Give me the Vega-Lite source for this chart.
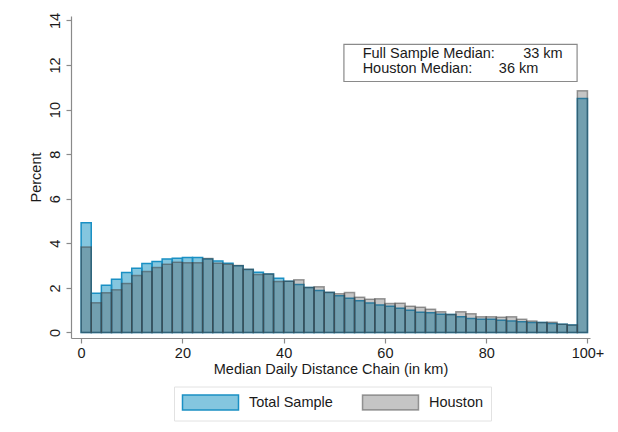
{
  "$schema": "https://vega.github.io/schema/vega-lite/v6.json",
  "width": 519,
  "height": 322,
  "autosize": {"type": "none"},
  "padding": {"left": 71, "top": 16, "right": 28, "bottom": 94},
  "background": "white",
  "config": {
    "view": {"stroke": null},
    "font": "Liberation Sans",
    "axis": {
      "domainColor": "#8a8a8a",
      "tickColor": "#8a8a8a",
      "labelColor": "#1a1a1a",
      "titleColor": "#1a1a1a",
      "labelFontSize": 14.5,
      "titleFontSize": 14.5,
      "titleFontWeight": "normal",
      "grid": false,
      "tickSize": 5,
      "domainWidth": 1.2,
      "tickWidth": 1.2
    }
  },
  "datasets": {
    "hist": [
      {"bin": 0, "bin_end": 2, "Total Sample": 4.92, "Houston": 3.83},
      {"bin": 2, "bin_end": 4, "Total Sample": 1.76, "Houston": 1.33},
      {"bin": 4, "bin_end": 6, "Total Sample": 2.12, "Houston": 1.78},
      {"bin": 6, "bin_end": 8, "Total Sample": 2.39, "Houston": 1.91},
      {"bin": 8, "bin_end": 10, "Total Sample": 2.69, "Houston": 2.2},
      {"bin": 10, "bin_end": 12, "Total Sample": 2.88, "Houston": 2.55},
      {"bin": 12, "bin_end": 14, "Total Sample": 3.09, "Houston": 2.73},
      {"bin": 14, "bin_end": 16, "Total Sample": 3.18, "Houston": 2.91},
      {"bin": 16, "bin_end": 18, "Total Sample": 3.3, "Houston": 3.06},
      {"bin": 18, "bin_end": 20, "Total Sample": 3.33, "Houston": 3.15},
      {"bin": 20, "bin_end": 22, "Total Sample": 3.36, "Houston": 3.13},
      {"bin": 22, "bin_end": 24, "Total Sample": 3.36, "Houston": 3.13},
      {"bin": 24, "bin_end": 26, "Total Sample": 3.3, "Houston": 3.32},
      {"bin": 26, "bin_end": 28, "Total Sample": 3.2, "Houston": 3.1},
      {"bin": 28, "bin_end": 30, "Total Sample": 3.1, "Houston": 3.06},
      {"bin": 30, "bin_end": 32, "Total Sample": 2.99, "Houston": 3.0},
      {"bin": 32, "bin_end": 34, "Total Sample": 2.82, "Houston": 2.84},
      {"bin": 34, "bin_end": 36, "Total Sample": 2.7, "Houston": 2.6},
      {"bin": 36, "bin_end": 38, "Total Sample": 2.62, "Houston": 2.62},
      {"bin": 38, "bin_end": 40, "Total Sample": 2.43, "Houston": 2.29},
      {"bin": 40, "bin_end": 42, "Total Sample": 2.3, "Houston": 2.3},
      {"bin": 42, "bin_end": 44, "Total Sample": 2.15, "Houston": 2.36},
      {"bin": 44, "bin_end": 46, "Total Sample": 2.02, "Houston": 2.02},
      {"bin": 46, "bin_end": 48, "Total Sample": 1.88, "Houston": 2.05},
      {"bin": 48, "bin_end": 50, "Total Sample": 1.79, "Houston": 1.8},
      {"bin": 50, "bin_end": 52, "Total Sample": 1.65, "Houston": 1.74},
      {"bin": 52, "bin_end": 54, "Total Sample": 1.53, "Houston": 1.79},
      {"bin": 54, "bin_end": 56, "Total Sample": 1.42, "Houston": 1.58},
      {"bin": 56, "bin_end": 58, "Total Sample": 1.32, "Houston": 1.49},
      {"bin": 58, "bin_end": 60, "Total Sample": 1.23, "Houston": 1.51},
      {"bin": 60, "bin_end": 62, "Total Sample": 1.18, "Houston": 1.3},
      {"bin": 62, "bin_end": 64, "Total Sample": 1.08, "Houston": 1.31},
      {"bin": 64, "bin_end": 66, "Total Sample": 1.0, "Houston": 1.18},
      {"bin": 66, "bin_end": 68, "Total Sample": 0.91, "Houston": 1.13},
      {"bin": 68, "bin_end": 70, "Total Sample": 0.88, "Houston": 1.04},
      {"bin": 70, "bin_end": 72, "Total Sample": 0.82, "Houston": 0.93},
      {"bin": 72, "bin_end": 74, "Total Sample": 0.81, "Houston": 0.81},
      {"bin": 74, "bin_end": 76, "Total Sample": 0.7, "Houston": 0.93},
      {"bin": 76, "bin_end": 78, "Total Sample": 0.63, "Houston": 0.84},
      {"bin": 78, "bin_end": 80, "Total Sample": 0.59, "Houston": 0.7},
      {"bin": 80, "bin_end": 82, "Total Sample": 0.59, "Houston": 0.7},
      {"bin": 82, "bin_end": 84, "Total Sample": 0.55, "Houston": 0.68},
      {"bin": 84, "bin_end": 86, "Total Sample": 0.51, "Houston": 0.7},
      {"bin": 86, "bin_end": 88, "Total Sample": 0.48, "Houston": 0.59},
      {"bin": 88, "bin_end": 90, "Total Sample": 0.45, "Houston": 0.51},
      {"bin": 90, "bin_end": 92, "Total Sample": 0.45, "Houston": 0.45},
      {"bin": 92, "bin_end": 94, "Total Sample": 0.4, "Houston": 0.46},
      {"bin": 94, "bin_end": 96, "Total Sample": 0.37, "Houston": 0.37},
      {"bin": 96, "bin_end": 98, "Total Sample": 0.33, "Houston": 0.33},
      {"bin": 98, "bin_end": 100, "Total Sample": 10.5, "Houston": 10.84}
    ],
    "note": [
      {"t": "Full Sample Median:", "px": 55.6, "py": 12.33},
      {"t": "33 km", "px": 87.3, "py": 12.33},
      {"t": "Houston Median:", "px": 55.6, "py": 11.66},
      {"t": "36 km", "px": 82.5, "py": 11.66}
    ],
    "box": [
      {"x0": 51.9, "x1": 97.95, "y0": 12.93, "y1": 11.26}
    ]
  },
  "layer": [
    {
      "data": {"name": "hist"},
      "transform": [
        {"fold": ["Total Sample", "Houston"], "as": ["series", "pct"]},
        {"filter": "datum.series == 'Total Sample'"}
      ],
      "mark": {"type": "bar", "strokeWidth": 1.5},
      "encoding": {
        "x": {
          "field": "bin",
          "type": "quantitative",
          "scale": {"domain": [-2, 100.5], "nice": false, "zero": false},
          "axis": {
            "values": [0, 20, 40, 60, 80, 100],
            "labelExpr": "datum.value == 100 ? '100+' : datum.label",
            "title": "Median Daily Distance Chain (in km)",
            "labelPadding": 3,
            "titlePadding": 3
          }
        },
        "x2": {"field": "bin_end"},
        "y": {
          "field": "pct",
          "type": "quantitative",
          "scale": {"domain": [-0.25, 14.2], "nice": false, "zero": false},
          "axis": {
            "values": [0, 2, 4, 6, 8, 10, 12, 14],
            "title": "Percent",
            "labelAngle": -90,
            "labelAlign": "center",
            "labelBaseline": "bottom",
            "labelPadding": 4,
            "titlePadding": 4
          }
        },
        "y2": {"datum": 0},
        "fill": {
          "field": "series", "type": "nominal",
          "scale": {"domain": ["Total Sample", "Houston"], "range": ["#0a8ec0", "#505050"]},
          "legend": {
            "title": null,
            "orient": "none",
            "legendX": 103,
            "legendY": 370.5,
            "direction": "horizontal",
            "symbolType": "M-1,-1H6.4667V1H-1Z",
            "symbolSize": 225,
            "symbolStrokeWidth": 1.5,
            "labelFontSize": 14.5,
            "labelColor": "#1a1a1a",
            "labelOffset": 50.5,
            "columnPadding": 26,
            "padding": 7.5,
            "strokeColor": "#e2e2e2",
            "fillColor": "white",
            "encode": {
              "symbols": {
                "update": {
                  "fillOpacity": {"signal": "datum.value === 'Houston' ? 0.33 : 0.5"},
                  "strokeOpacity": {"signal": "datum.value === 'Houston' ? 0.5 : 1"}
                }
              }
            }
          }
        },
        "stroke": {
          "field": "series", "type": "nominal",
          "scale": {"domain": ["Total Sample", "Houston"], "range": ["#1a90c4", "#404040"]}
        },
        "fillOpacity": {
          "field": "series", "type": "nominal",
          "scale": {"domain": ["Total Sample", "Houston"], "range": [0.5, 0.33]},
          "legend": null
        },
        "strokeOpacity": {
          "field": "series", "type": "nominal",
          "scale": {"domain": ["Total Sample", "Houston"], "range": [1, 0.5]},
          "legend": null
        }
      }
    },
    {
      "data": {"name": "hist"},
      "transform": [
        {"fold": ["Total Sample", "Houston"], "as": ["series", "pct"]},
        {"filter": "datum.series == 'Houston'"}
      ],
      "mark": {"type": "bar", "strokeWidth": 1.5},
      "encoding": {
        "x": {"field": "bin", "type": "quantitative"},
        "x2": {"field": "bin_end"},
        "y": {"field": "pct", "type": "quantitative"},
        "y2": {"datum": 0},
        "fill": {"field": "series", "type": "nominal"},
        "stroke": {"field": "series", "type": "nominal"},
        "fillOpacity": {"field": "series", "type": "nominal", "legend": null},
        "strokeOpacity": {"field": "series", "type": "nominal", "legend": null}
      }
    },
    {
      "data": {"name": "box"},
      "mark": {"type": "rect", "fill": "white", "stroke": "#8a8a8a", "strokeWidth": 1.2},
      "encoding": {
        "x": {"field": "x0", "type": "quantitative"},
        "x2": {"field": "x1"},
        "y": {"field": "y0", "type": "quantitative"},
        "y2": {"field": "y1"}
      }
    },
    {
      "data": {"name": "note"},
      "mark": {"type": "text", "align": "left", "baseline": "alphabetic", "fontSize": 14.5, "color": "#1a1a1a"},
      "encoding": {
        "x": {"field": "px", "type": "quantitative"},
        "y": {"field": "py", "type": "quantitative"},
        "text": {"field": "t"}
      }
    }
  ]
}
